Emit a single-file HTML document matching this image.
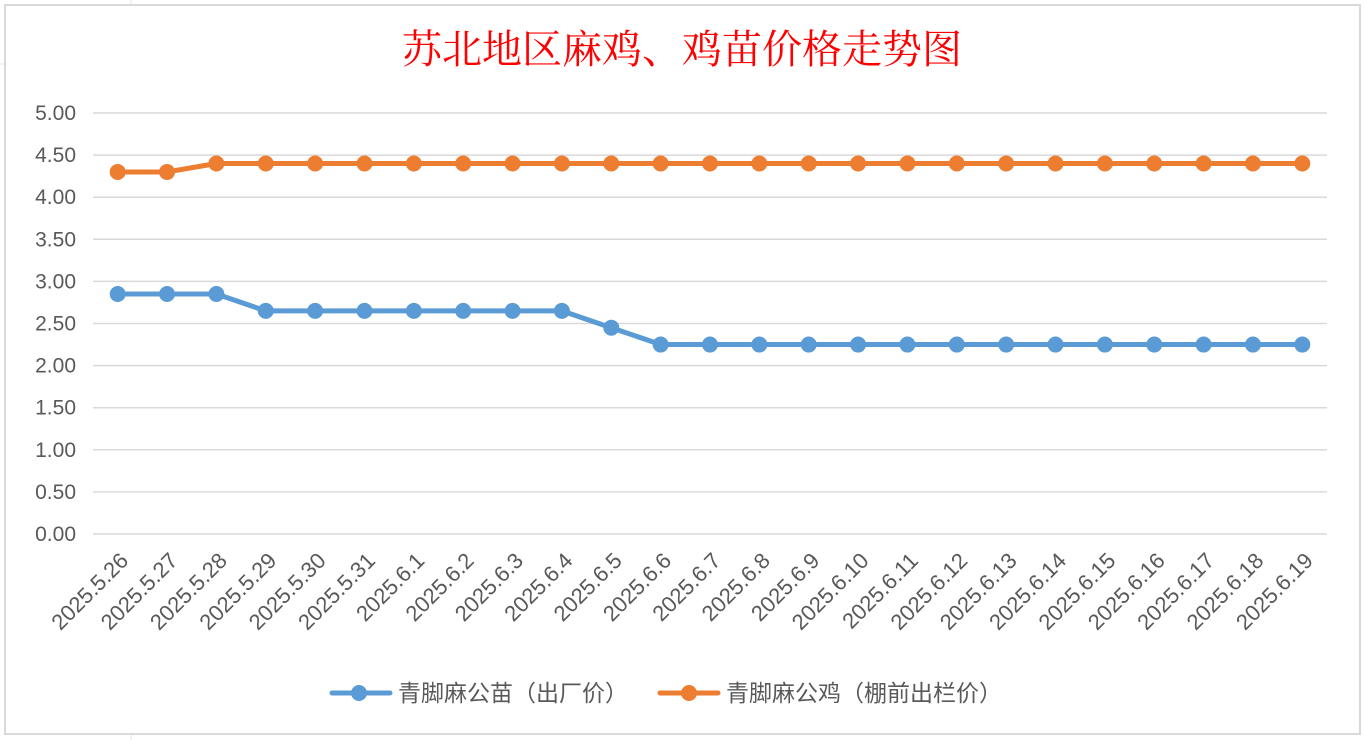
<!DOCTYPE html>
<html><head><meta charset="utf-8"><style>
html,body{margin:0;padding:0;background:#fff;}
svg{display:block;font-family:"Liberation Sans","Noto Sans CJK SC",sans-serif;}
</style></head><body>
<svg width="1365" height="740">
<g stroke="#e4e4e4" stroke-width="1">
<line x1="131" y1="0" x2="131" y2="740"/><line x1="0" y1="64" x2="5" y2="64"/>
</g>
<rect x="5" y="5" width="1355" height="729" fill="#fff" stroke="#d9d9d9" stroke-width="2"/>
<text x="682" y="63" text-anchor="middle" font-size="40" fill="#ff0000" font-family="'Liberation Serif','Noto Serif CJK SC',serif">苏北地区麻鸡、鸡苗价格走势图</text>
<g id="grid"></g>
<g id="yl"></g>
<g id="xl"></g>
<g id="series"></g>
<g>
<g>
<line x1="332" y1="693" x2="390" y2="693" stroke="#5b9bd5" stroke-width="5" stroke-linecap="round"/>
<circle cx="359" cy="693" r="8" fill="#5b9bd5"/>
<text x="398" y="701" font-size="23" fill="#595959">青脚麻公苗（出厂价）</text></g>
<g>
<line x1="660" y1="693" x2="718" y2="693" stroke="#ed7d31" stroke-width="5" stroke-linecap="round"/>
<circle cx="689" cy="693" r="8" fill="#ed7d31"/>
<text x="726" y="701" font-size="23" fill="#595959">青脚麻公鸡（棚前出栏价）</text></g>
</g>
</svg>
<script>
const categories=["2025.5.26","2025.5.27","2025.5.28","2025.5.29","2025.5.30","2025.5.31","2025.6.1","2025.6.2","2025.6.3","2025.6.4","2025.6.5","2025.6.6","2025.6.7","2025.6.8","2025.6.9","2025.6.10","2025.6.11","2025.6.12","2025.6.13","2025.6.14","2025.6.15","2025.6.16","2025.6.17","2025.6.18","2025.6.19"];
const chickPrice=[2.85,2.85,2.85,2.65,2.65,2.65,2.65,2.65,2.65,2.65,2.45,2.25,2.25,2.25,2.25,2.25,2.25,2.25,2.25,2.25,2.25,2.25,2.25,2.25,2.25];
const roosterPrice=[4.3,4.3,4.4,4.4,4.4,4.4,4.4,4.4,4.4,4.4,4.4,4.4,4.4,4.4,4.4,4.4,4.4,4.4,4.4,4.4,4.4,4.4,4.4,4.4,4.4];
const yTicks=[0,0.5,1,1.5,2,2.5,3,3.5,4,4.5,5];
const NS="http://www.w3.org/2000/svg";
const X0=93,X1=1327,Y0=534,Y1=113,YMAX=5;
const step=(X1-X0)/categories.length;
function xs(i){return X0+step*(i+0.5);}
function ys(v){return Y0-(v/YMAX)*(Y0-Y1);}
function mk(t,a){const e=document.createElementNS(NS,t);for(const k in a)e.setAttribute(k,a[k]);return e;}
const grid=document.getElementById('grid'),yl=document.getElementById('yl'),xl=document.getElementById('xl'),ser=document.getElementById('series');
yTicks.forEach(v=>{
 const l=mk('line',{x1:X0,x2:X1,y1:ys(v),y2:ys(v),stroke:'#d9d9d9','stroke-width':1.5});
 
 
 grid.appendChild(l);
 const t=mk('text',{x:76,y:ys(v)+7,'text-anchor':'end','font-size':21,fill:'#595959'});
 t.textContent=v.toFixed(2);
 
 
 yl.appendChild(t);
});
categories.forEach((c,i)=>{
 const x=xs(i)+12,y=562;
 const t=mk('text',{x:x,y:y,'text-anchor':'end','font-size':22,fill:'#595959',transform:`rotate(-45 ${x} ${y})`});
 t.textContent=c;
 
 
 xl.appendChild(t);
});
function draw(vals,color,name){
 const g=mk('g',{});
 
 
 const p=mk('polyline',{points:vals.map((v,i)=>xs(i)+','+ys(v)).join(' '),fill:'none',stroke:color,'stroke-width':5,'stroke-linejoin':'round'});
 
 
 g.appendChild(p);
 vals.forEach((v,i)=>{
  const c=mk('circle',{cx:xs(i),cy:ys(v),r:8,fill:color});
  
  
  g.appendChild(c);
 });
 ser.appendChild(g);
}
draw(chickPrice,'#5b9bd5','series-chick');
draw(roosterPrice,'#ed7d31','series-rooster');
</script>
</body></html>
